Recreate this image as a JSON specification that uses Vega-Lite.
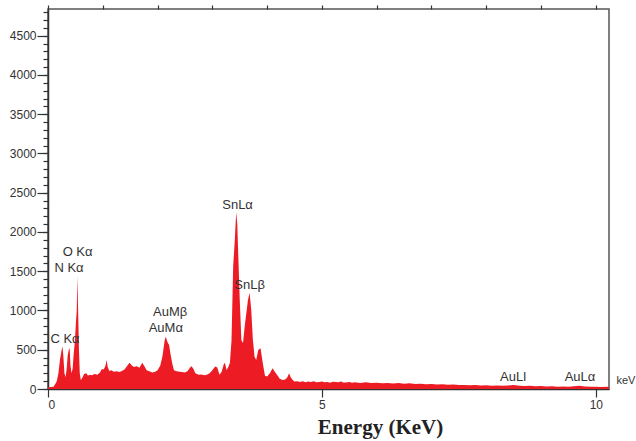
{
  "$schema": "https://vega.github.io/schema/vega-lite/v6.json",
  "width": 561,
  "height": 380,
  "autosize": {"type": "none"},
  "padding": {"left": 48, "top": 9, "right": 27, "bottom": 52},
  "background": "white",
  "config": {
    "view": {"stroke": "#555", "strokeWidth": 1.5},
    "axis": {"domainColor": "#333", "domainWidth": 1.5, "tickColor": "#333", "tickWidth": 1.2, "labelColor": "#333", "labelFont": "Liberation Sans", "labelFontSize": 12, "grid": false}
  },
  "datasets": {
    "spectrum": [
      {"keV": 0.00, "counts": 20}, {"keV": 0.05, "counts": 25}, {"keV": 0.10, "counts": 30}, {"keV": 0.13, "counts": 60},
      {"keV": 0.16, "counts": 100}, {"keV": 0.19, "counts": 200}, {"keV": 0.22, "counts": 380}, {"keV": 0.25, "counts": 500},
      {"keV": 0.265, "counts": 540}, {"keV": 0.28, "counts": 420}, {"keV": 0.30, "counts": 200}, {"keV": 0.32, "counts": 150},
      {"keV": 0.34, "counts": 250}, {"keV": 0.36, "counts": 430}, {"keV": 0.38, "counts": 500}, {"keV": 0.395, "counts": 520},
      {"keV": 0.41, "counts": 300}, {"keV": 0.43, "counts": 200}, {"keV": 0.45, "counts": 260}, {"keV": 0.47, "counts": 460},
      {"keV": 0.49, "counts": 600}, {"keV": 0.51, "counts": 850}, {"keV": 0.525, "counts": 1000}, {"keV": 0.535, "counts": 1440},
      {"keV": 0.55, "counts": 1000}, {"keV": 0.565, "counts": 500}, {"keV": 0.58, "counts": 200}, {"keV": 0.60, "counts": 110},
      {"keV": 0.63, "counts": 150}, {"keV": 0.66, "counts": 190}, {"keV": 0.70, "counts": 200}, {"keV": 0.73, "counts": 170},
      {"keV": 0.76, "counts": 180}, {"keV": 0.80, "counts": 175}, {"keV": 0.85, "counts": 190}, {"keV": 0.90, "counts": 180},
      {"keV": 0.95, "counts": 210}, {"keV": 0.98, "counts": 250}, {"keV": 1.02, "counts": 250}, {"keV": 1.05, "counts": 300},
      {"keV": 1.07, "counts": 370}, {"keV": 1.09, "counts": 280}, {"keV": 1.12, "counts": 230}, {"keV": 1.16, "counts": 240},
      {"keV": 1.20, "counts": 220}, {"keV": 1.25, "counts": 225}, {"keV": 1.30, "counts": 215}, {"keV": 1.35, "counts": 230},
      {"keV": 1.40, "counts": 250}, {"keV": 1.45, "counts": 300}, {"keV": 1.49, "counts": 335}, {"keV": 1.53, "counts": 300},
      {"keV": 1.57, "counts": 280}, {"keV": 1.62, "counts": 290}, {"keV": 1.67, "counts": 270}, {"keV": 1.72, "counts": 335},
      {"keV": 1.76, "counts": 290}, {"keV": 1.80, "counts": 240}, {"keV": 1.85, "counts": 225}, {"keV": 1.90, "counts": 210},
      {"keV": 1.95, "counts": 215}, {"keV": 2.00, "counts": 240}, {"keV": 2.05, "counts": 300}, {"keV": 2.09, "counts": 420},
      {"keV": 2.13, "counts": 620}, {"keV": 2.15, "counts": 665}, {"keV": 2.18, "counts": 600}, {"keV": 2.21, "counts": 560},
      {"keV": 2.24, "counts": 430}, {"keV": 2.27, "counts": 320}, {"keV": 2.30, "counts": 240}, {"keV": 2.35, "counts": 225},
      {"keV": 2.40, "counts": 220}, {"keV": 2.45, "counts": 215}, {"keV": 2.50, "counts": 210}, {"keV": 2.55, "counts": 230},
      {"keV": 2.59, "counts": 270}, {"keV": 2.62, "counts": 290}, {"keV": 2.65, "counts": 260}, {"keV": 2.69, "counts": 200},
      {"keV": 2.75, "counts": 180}, {"keV": 2.80, "counts": 185}, {"keV": 2.85, "counts": 175}, {"keV": 2.90, "counts": 180},
      {"keV": 2.95, "counts": 200}, {"keV": 3.00, "counts": 240}, {"keV": 3.05, "counts": 285}, {"keV": 3.09, "counts": 275},
      {"keV": 3.13, "counts": 180}, {"keV": 3.17, "counts": 220}, {"keV": 3.21, "counts": 320}, {"keV": 3.23, "counts": 330},
      {"keV": 3.26, "counts": 240}, {"keV": 3.29, "counts": 280}, {"keV": 3.32, "counts": 330}, {"keV": 3.35, "counts": 620},
      {"keV": 3.38, "counts": 1560}, {"keV": 3.41, "counts": 1900}, {"keV": 3.435, "counts": 2250}, {"keV": 3.455, "counts": 2100},
      {"keV": 3.47, "counts": 1770}, {"keV": 3.50, "counts": 1135}, {"keV": 3.53, "counts": 620}, {"keV": 3.56, "counts": 585},
      {"keV": 3.59, "counts": 795}, {"keV": 3.62, "counts": 965}, {"keV": 3.65, "counts": 1135}, {"keV": 3.68, "counts": 1227},
      {"keV": 3.71, "counts": 1006}, {"keV": 3.74, "counts": 625}, {"keV": 3.77, "counts": 410}, {"keV": 3.80, "counts": 370},
      {"keV": 3.84, "counts": 500}, {"keV": 3.88, "counts": 520}, {"keV": 3.92, "counts": 330}, {"keV": 3.96, "counts": 170},
      {"keV": 4.00, "counts": 160}, {"keV": 4.05, "counts": 200}, {"keV": 4.10, "counts": 265}, {"keV": 4.14, "counts": 220},
      {"keV": 4.18, "counts": 180}, {"keV": 4.23, "counts": 130}, {"keV": 4.28, "counts": 115}, {"keV": 4.33, "counts": 120},
      {"keV": 4.37, "counts": 150}, {"keV": 4.40, "counts": 200}, {"keV": 4.43, "counts": 150}, {"keV": 4.47, "counts": 110},
      {"keV": 4.50, "counts": 95}, {"keV": 4.55, "counts": 100}, {"keV": 4.60, "counts": 90}, {"keV": 4.65, "counts": 100},
      {"keV": 4.70, "counts": 85}, {"keV": 4.75, "counts": 95}, {"keV": 4.80, "counts": 90}, {"keV": 4.85, "counts": 100},
      {"keV": 4.90, "counts": 85}, {"keV": 4.95, "counts": 90}, {"keV": 5.00, "counts": 95}, {"keV": 5.05, "counts": 85},
      {"keV": 5.10, "counts": 90}, {"keV": 5.15, "counts": 80}, {"keV": 5.20, "counts": 92}, {"keV": 5.30, "counts": 85},
      {"keV": 5.35, "counts": 95}, {"keV": 5.40, "counts": 80}, {"keV": 5.50, "counts": 88}, {"keV": 5.55, "counts": 80},
      {"keV": 5.60, "counts": 85}, {"keV": 5.70, "counts": 78}, {"keV": 5.80, "counts": 85}, {"keV": 5.90, "counts": 75},
      {"keV": 6.00, "counts": 80}, {"keV": 6.10, "counts": 72}, {"keV": 6.20, "counts": 78}, {"keV": 6.30, "counts": 70},
      {"keV": 6.40, "counts": 75}, {"keV": 6.50, "counts": 68}, {"keV": 6.60, "counts": 72}, {"keV": 6.70, "counts": 65},
      {"keV": 6.80, "counts": 68}, {"keV": 6.90, "counts": 62}, {"keV": 7.00, "counts": 65}, {"keV": 7.10, "counts": 58},
      {"keV": 7.20, "counts": 60}, {"keV": 7.30, "counts": 55}, {"keV": 7.40, "counts": 58}, {"keV": 7.50, "counts": 50},
      {"keV": 7.60, "counts": 52}, {"keV": 7.70, "counts": 48}, {"keV": 7.80, "counts": 50}, {"keV": 7.90, "counts": 45},
      {"keV": 8.00, "counts": 48}, {"keV": 8.10, "counts": 42}, {"keV": 8.20, "counts": 44}, {"keV": 8.30, "counts": 40},
      {"keV": 8.40, "counts": 45}, {"keV": 8.50, "counts": 50}, {"keV": 8.60, "counts": 42}, {"keV": 8.70, "counts": 38},
      {"keV": 8.80, "counts": 40}, {"keV": 8.90, "counts": 35}, {"keV": 9.00, "counts": 38}, {"keV": 9.10, "counts": 33},
      {"keV": 9.20, "counts": 35}, {"keV": 9.30, "counts": 30}, {"keV": 9.40, "counts": 33}, {"keV": 9.50, "counts": 30},
      {"keV": 9.60, "counts": 35}, {"keV": 9.70, "counts": 40}, {"keV": 9.80, "counts": 32}, {"keV": 9.90, "counts": 28},
      {"keV": 10.00, "counts": 30}, {"keV": 10.10, "counts": 25}, {"keV": 10.20, "counts": 28}, {"keV": 10.24, "counts": 25}
    ],
    "labels": [
      {"label": "C Kα", "keV": 0.31, "counts": 637, "size": 13},
      {"label": "N Kα", "keV": 0.383, "counts": 1541, "size": 13},
      {"label": "O Kα", "keV": 0.54, "counts": 1745, "size": 13},
      {"label": "AuMβ", "keV": 2.23, "counts": 981, "size": 13},
      {"label": "AuMα", "keV": 2.15, "counts": 777, "size": 13},
      {"label": "SnLα", "keV": 3.46, "counts": 2344, "size": 13},
      {"label": "SnLβ", "keV": 3.68, "counts": 1325, "size": 13},
      {"label": "AuLl", "keV": 8.49, "counts": 153, "size": 13},
      {"label": "AuLα", "keV": 9.71, "counts": 153, "size": 13},
      {"label": "keV", "keV": 10.55, "counts": 102, "size": 11}
    ]
  },
  "resolve": {"axis": {"x": "independent", "y": "independent"}},
  "layer": [
    {
      "data": {"name": "spectrum"},
      "mark": {"type": "area", "color": "#ed1c24", "interpolate": "linear"},
      "encoding": {
        "x": {"field": "keV", "type": "quantitative",
              "scale": {"domain": [0, 10.24], "nice": false, "zero": false},
              "axis": {"values": [0, 5, 10], "tickSize": 8, "labelPadding": 2, "format": "d",
                       "title": "Energy (KeV)", "titleFont": "Liberation Serif", "titleFontWeight": "bold",
                       "titleFontSize": 21, "titleColor": "#222", "titleX": 332, "titleY": 38, "titleBaseline": "middle"}},
        "y": {"field": "counts", "type": "quantitative",
              "scale": {"domain": [0, 4840], "nice": false},
              "axis": {"values": [0, 500, 1000, 1500, 2000, 2500, 3000, 3500, 4000, 4500], "tickSize": 11, "labelPadding": 1, "title": null, "format": "d"}}
      }
    },
    {
      "data": {"name": "labels"},
      "mark": {"type": "text", "font": "Liberation Sans", "color": "#333", "align": "center", "baseline": "middle"},
      "encoding": {
        "x": {"field": "keV", "type": "quantitative",
              "axis": {"values": [0, 1, 2, 3, 4, 5, 6, 7, 8, 9, 10], "tickSize": 4, "labels": false, "domain": false, "title": null}},
        "y": {"field": "counts", "type": "quantitative",
              "axis": {"orient": "left", "values": [0,100,200,300,400,500,600,700,800,900,1000,1100,1200,1300,1400,1500,1600,1700,1800,1900,2000,2100,2200,2300,2400,2500,2600,2700,2800,2900,3000,3100,3200,3300,3400,3500,3600,3700,3800,3900,4000,4100,4200,4300,4400,4500,4600,4700,4800],
                       "tickSize": 5, "labels": false, "domain": false, "title": null}},
        "text": {"field": "label"},
        "size": {"field": "size", "type": "quantitative", "scale": null}
      }
    }
  ]
}
